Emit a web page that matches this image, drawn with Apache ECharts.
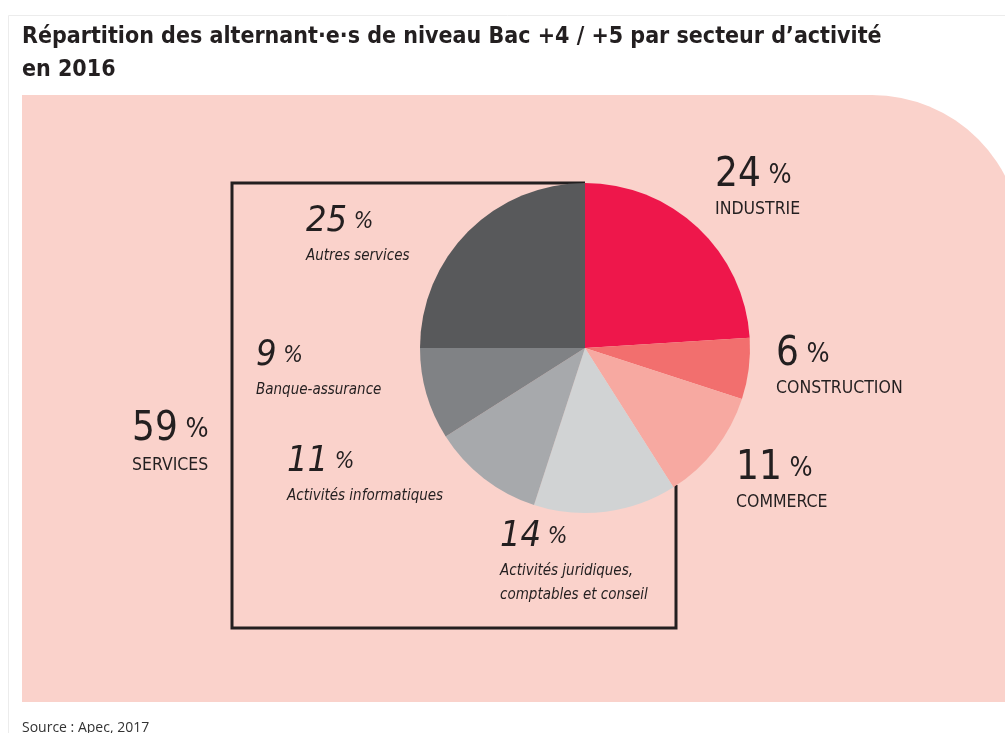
<!DOCTYPE html>
<html>
<head>
<meta charset="utf-8">
<script src="https://cdn.jsdelivr.net/npm/echarts@6/dist/echarts.min.js"></script>
<style>
  html, body { margin: 0; padding: 0; background: #fff; }
  #main { width: 1005px; height: 733px; }
</style>
</head>
<body>
<div id="main"></div>
<script>
// secteurs, dans le sens horaire depuis midi
var secteurs = ['INDUSTRIE', 'CONSTRUCTION', 'COMMERCE', 'Activités juridiques,\ncomptables et conseil', 'Activités informatiques', 'Banque-assurance', 'Autres services']
var parts = [24, 6, 11, 14, 11, 9, 25]
var couleurs = ['#EE174B', '#F26F6E', '#F7A9A1', '#D1D3D4', '#A7A9AC', '#808285', '#58595B']
var estService = [false, false, false, true, true, true, true]
// position du coin haut-gauche de chaque étiquette
var posEtiquettes = [[715, 155], [776, 334], [736, 448], [500, 515], [287, 440], [256, 334], [306, 200]]

var condensed = '"DejaVu Sans Condensed", "Liberation Sans Narrow", "DejaVu Sans", sans-serif'

var totalServices = 0
parts.forEach(function (v, i) { if (estService[i]) totalServices += v })

var data = secteurs.map(function (s, i) {
  var it = estService[i]
  return {
    name: s,
    value: parts[i],
    itemStyle: { color: couleurs[i] },
    label: {
      formatter: it ? '{ni|' + parts[i] + '}{pi| %}\n{ti|' + s.replace('\n', '}\n{ti|') + '}'
                    : '{n|' + parts[i] + '}{p| %}\n{t|' + s + '}'
    }
  }
})

var myChart = echarts.init(document.getElementById('main'))
var option = {
  backgroundColor: '#fff',
  animation: false,
  graphic: [
    { type: 'rect', z: -10, shape: { x: 8.5, y: 15.5, width: 1100, height: 800 }, style: { fill: '#fff', stroke: '#ececec', lineWidth: 1 } },
    { type: 'rect', z: -5, shape: { x: 22, y: 95, width: 1000, height: 607, r: [0, 150, 0, 0] }, style: { fill: '#FAD2CB' } },
    {
      type: 'polyline', z: 1,
      shape: { points: [[585, 183], [232, 183], [232, 628], [676, 628], [676, 485]] },
      style: { stroke: '#231F20', lineWidth: 3, fill: null }
    },
    {
      type: 'text', left: 22, top: 21,
      style: {
        text: 'Répartition des alternant·e·s de niveau Bac +4 / +5 par secteur d\u2019activité\nen 2016',
        font: 'bold 23px ' + condensed, fill: '#231F20', lineHeight: 33
      }
    },
    {
      type: 'text', left: 132, top: 410, z: 5,
      style: {
        text: '{n|' + totalServices + '}{p| %}\n{t|SERVICES}',
        rich: {
          n: { fontSize: 40, fontFamily: condensed, fill: '#231F20', lineHeight: 46 },
          p: { fontSize: 27, fontFamily: condensed, fill: '#231F20', lineHeight: 46 },
          t: { fontSize: 17.5, fontFamily: condensed, fill: '#231F20', lineHeight: 24 }
        }
      }
    },
    {
      type: 'text', left: 22, top: 721,
      style: { text: 'Source : Apec, 2017', font: '14px "Open Sans", sans-serif', fill: '#333' }
    }
  ],
  series: [{
    type: 'pie',
    center: [585, 348],
    radius: [0, 165],
    startAngle: 90,
    clockwise: true,
    silent: true,
    z: 3,
    label: {
      show: true,
      position: 'outside',
      align: 'left',
      color: '#231F20',
      rich: {
        n: { fontSize: 40, fontFamily: condensed, color: '#231F20', lineHeight: 42 },
        p: { fontSize: 27, fontFamily: condensed, color: '#231F20', lineHeight: 42 },
        t: { fontSize: 17.5, fontFamily: condensed, color: '#231F20', lineHeight: 24 },
        ni: { fontSize: 36, fontStyle: 'italic', fontFamily: condensed, color: '#231F20', lineHeight: 44 },
        pi: { fontSize: 23, fontStyle: 'italic', fontFamily: condensed, color: '#231F20', lineHeight: 44 },
        ti: { fontSize: 15, fontStyle: 'italic', fontFamily: condensed, color: '#231F20', lineHeight: 24 }
      }
    },
    labelLine: { show: false },
    labelLayout: function (p) {
      var pos = posEtiquettes[p.dataIndex]
      return { x: pos[0], y: pos[1], align: 'left', verticalAlign: 'top' }
    },
    data: data
  }]
}
myChart.setOption(option)
</script>
</body>
</html>
